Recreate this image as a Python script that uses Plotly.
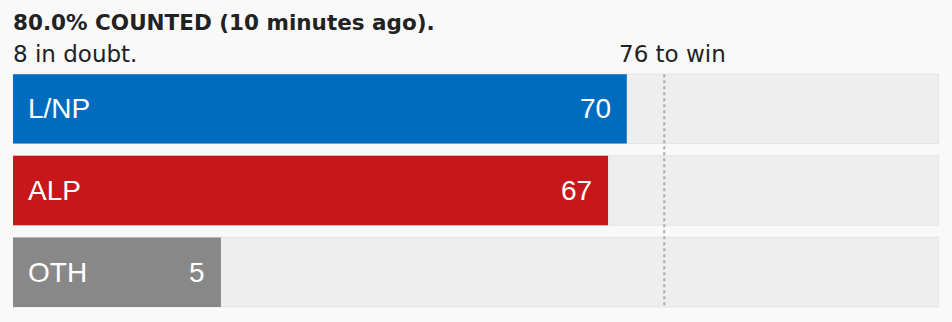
import plotly.graph_objects as go

parties = ["L/NP", "ALP", "OTH"]
seats = [70, 67, 5]
colors = ["#006cbf", "#c8171b", "#888888"]
axis_max = 120
to_win = 76
label_pad = 28.3  # seats-equivalent space reserved for the party label
counted_pct = 80.0
updated = "10 minutes ago"
in_doubt = 8

W, H = 952, 322
BG = "#f9f9f9"
TRACK = "#eeeeee"
TXT = "#222222"

fig = go.Figure()

# background tracks
fig.add_trace(go.Bar(
    y=parties, x=[axis_max + label_pad] * len(parties), base=[-label_pad] * len(parties),
    orientation="h", marker=dict(color=TRACK, line=dict(color="#e3e3e3", width=1)),
    hoverinfo="skip", showlegend=False,
))

# threshold line
fig.add_shape(type="line", xref="x", yref="y", x0=to_win, x1=to_win, y0=-0.425, y1=2.425,
              line=dict(color="#aaaaaa", width=2, dash="dot"), layer="above")

# party bars
fig.add_trace(go.Bar(
    y=parties, x=[s + label_pad for s in seats], base=[-label_pad] * len(parties),
    orientation="h", marker=dict(color=colors, line=dict(width=0)),
    hoverinfo="skip", showlegend=False,
))

for p, s in zip(parties, seats):
    fig.add_annotation(x=-label_pad, y=p, xref="x", yref="y", text=p, showarrow=False,
                       xanchor="left", yanchor="middle", xshift=13,
                       font=dict(family="Liberation Sans, Arial", size=28, color="white"))
    fig.add_annotation(x=s, y=p, xref="x", yref="y", text=str(s), showarrow=False,
                       xanchor="right", yanchor="middle", xshift=-14,
                       font=dict(family="Liberation Sans, Arial", size=28, color="white"))

fig.add_annotation(x=0, y=1.184, xref="paper", yref="paper",
                   text=f"<b>{counted_pct:.1f}% COUNTED ({updated}).</b>", showarrow=False,
                   xanchor="left", yanchor="middle", xshift=-2,
                   font=dict(family="DejaVu Sans", size=21.5, color=TXT))
fig.add_annotation(x=0, y=1.057, xref="paper", yref="paper",
                   text=f"{in_doubt} in doubt.", showarrow=False,
                   xanchor="left", yanchor="middle", xshift=-2,
                   font=dict(family="DejaVu Sans", size=23, color=TXT))
fig.add_annotation(x=to_win, y=1.057, xref="x", yref="paper",
                   text=f"{to_win} to win", showarrow=False,
                   xanchor="center", yanchor="middle", xshift=8,
                   font=dict(family="DejaVu Sans", size=23, color=TXT))

fig.update_layout(
    width=W, height=H, barmode="overlay", bargap=0.15,
    paper_bgcolor=BG, plot_bgcolor=BG,
    margin=dict(l=13, r=13, t=68, b=9),
    xaxis=dict(range=[-label_pad, axis_max], visible=False, fixedrange=True),
    yaxis=dict(autorange="reversed", visible=False, fixedrange=True),
    showlegend=False,
)

fig.write_html("out.html")
